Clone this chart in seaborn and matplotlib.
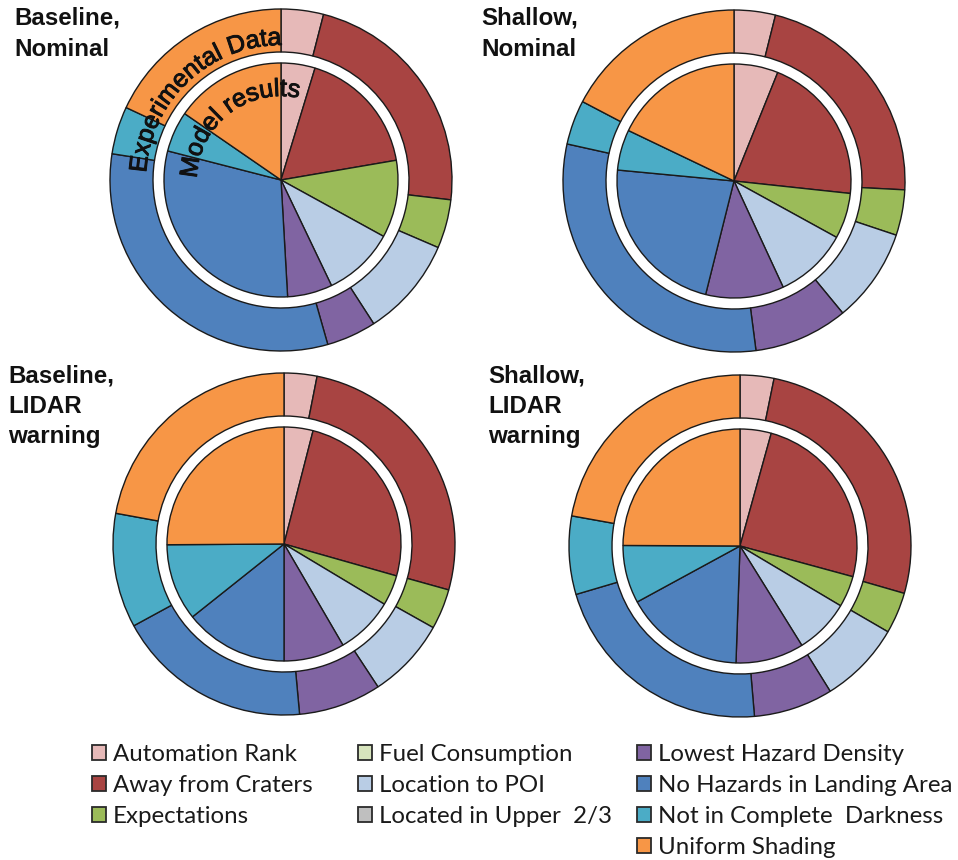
import numpy as np
import matplotlib
matplotlib.use("Agg")
import matplotlib.pyplot as plt
import matplotlib.patheffects as pe
import seaborn as sns
from matplotlib.patches import Patch
from matplotlib.font_manager import FontProperties, findfont, get_font
from matplotlib.ft2font import LOAD_NO_HINTING

# ---------------- data ----------------
categories = ["Automation Rank", "Away from Craters", "Expectations",
              "Fuel Consumption", "Location to POI", "Located in Upper  2/3",
              "Lowest Hazard Density", "No Hazards in Landing Area",
              "Not in Complete  Darkness", "Uniform Shading"]

panel_titles = ["Baseline,\nNominal", "Shallow,\nNominal",
                "Baseline,\nLIDAR\nwarning", "Shallow,\nLIDAR\nwarning"]

# outer ring = Experimental Data, inner pie = Model results (percent)
baseline_nominal_exp   = [4.0, 22.8, 4.6, 0, 9.4, 0, 4.7, 31.8, 4.5, 18.0]
baseline_nominal_model = [4.7, 17.6, 10.7, 0, 9.9, 0, 6.2, 29.9, 5.6, 15.4]
shallow_nominal_exp    = [3.9, 21.9, 4.3, 0, 8.9, 0, 8.9, 30.5, 4.2, 17.3]
shallow_nominal_model  = [6.1, 20.6, 6.3, 0, 10.1, 0, 10.8, 22.6, 5.6, 17.9]
baseline_lidar_exp     = [3.1, 26.2, 3.8, 0, 7.6, 0, 7.8, 18.5, 10.8, 22.1]
baseline_lidar_model   = [4.0, 25.4, 4.2, 0, 8.0, 0, 8.4, 14.3, 10.6, 25.1]
shallow_lidar_exp      = [3.2, 26.3, 3.9, 0, 7.8, 0, 7.5, 21.8, 7.4, 22.2]
shallow_lidar_model    = [4.3, 24.9, 4.3, 0, 7.6, 0, 9.4, 16.5, 8.0, 24.9]

colors_hex = ["#E6B9B8", "#A84442", "#9BBB59", "#D7E4BD", "#B9CDE5",
              "#BFBFBF", "#8064A2", "#4F81BD", "#4BACC6", "#F79646"]

# ---------------- style ----------------
sns.set_theme(style="white")
plt.rcParams['font.family'] = ['Liberation Sans', 'DejaVu Sans']
palette = sns.color_palette(colors_hex)

W, H = 958, 860
fig = plt.figure(figsize=(W / 100, H / 100), dpi=100)
ax = fig.add_axes([0, 0, 1, 1])

EDGE = "#1a1a1a"
R_OUT, RING_W, R_IN = 171, 43, 117

panels = [
    (baseline_nominal_exp, baseline_nominal_model, (281, H - 180), (14, 7)),
    (shallow_nominal_exp, shallow_nominal_model, (734, H - 181), (481, 7)),
    (baseline_lidar_exp, baseline_lidar_model, (284, H - 544), (8, 364)),
    (shallow_lidar_exp, shallow_lidar_model, (740, H - 546), (488, 364)),
]


def draw_pie(vals, radius, center, width=None):
    v = np.array(vals, dtype=float)
    keep = v > 0
    cols = [c for c, k in zip(palette, keep) if k]
    wp = dict(edgecolor=EDGE, linewidth=1.0)
    if width is not None:
        wp["width"] = width
    ax.pie(v[keep], colors=cols, startangle=90, counterclock=False,
           radius=radius, center=center, wedgeprops=wp)


for (exp_vals, mod_vals, ctr, tpos), title in zip(panels, panel_titles):
    draw_pie(exp_vals, R_OUT, ctr, width=RING_W)
    draw_pie(mod_vals, R_IN, ctr)
    ax.text(tpos[0], H - tpos[1], title, ha="left", va="top",
            fontsize=17.4, fontweight="bold", color="#111111",
            linespacing=1.42, family=['Liberation Sans', 'DejaVu Sans'])


# ---------------- curved labels ----------------
def arc_text(s, center, r, theta_start_deg, fontsize, family="Liberation Sans"):
    prop = FontProperties(family=family, size=fontsize)
    font = get_font(findfont(prop))
    font.set_size(fontsize, 100)
    adv = []
    for ch in s:
        g = font.load_char(ord(ch), flags=LOAD_NO_HINTING)
        adv.append(g.linearHoriAdvance / 65536)
    pos = 0.0
    for ch, a in zip(s, adv):
        mid = pos + a / 2
        th = np.deg2rad(theta_start_deg) - mid / r
        x = center[0] + r * np.cos(th)
        y = center[1] + r * np.sin(th)
        ax.text(x, y, ch, ha="center", va="baseline",
                rotation=np.rad2deg(th) - 90, rotation_mode="anchor",
                fontproperties=prop, color="#111111",
                path_effects=[pe.withStroke(linewidth=0.7, foreground="#111111")])
        pos += a


c1 = panels[0][2]
arc_text("Experimental Data", c1, 135, 177, 18)
arc_text("Model results", c1, 84, 179, 18)

# ---------------- legend ----------------
handles = [Patch(facecolor=c, edgecolor="#2a2a2a", linewidth=1.3) for c in palette]
groups = [(0, 3, 92), (3, 6, 358), (6, 10, 637)]
for a, b, xl in groups:
    leg = fig.legend(handles[a:b], categories[a:b], loc="upper left",
                     bbox_to_anchor=(xl / W, 1 - 744 / H), frameon=False,
                     handlelength=0.6, handleheight=0.6,
                     handletextpad=0.28, labelspacing=0.42, borderpad=0,
                     borderaxespad=0, prop={"family": "Lato", "size": 17.3})
    for t in leg.get_texts():
        t.set_color("#1a1a1a")

ax.set_xlim(0, W)
ax.set_ylim(0, H)
ax.set_aspect("equal")
ax.axis("off")

fig.savefig("out.png", dpi=100)
